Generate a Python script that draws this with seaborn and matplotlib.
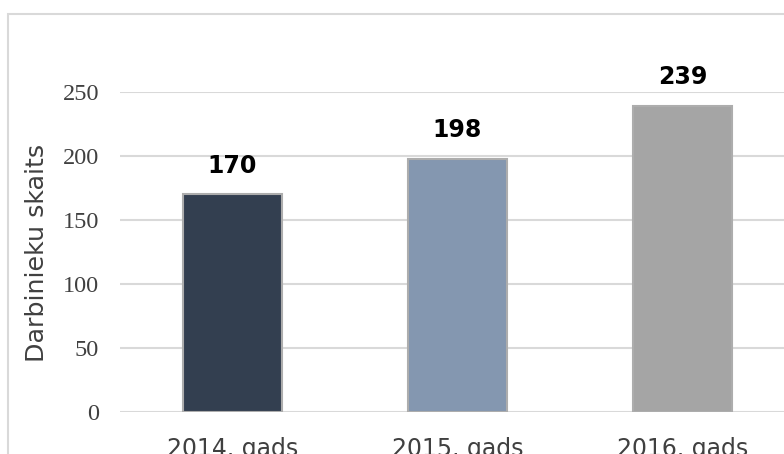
import matplotlib
matplotlib.use("Agg")
import matplotlib.pyplot as plt
import matplotlib.patches as mpatches
import seaborn as sns
import pandas as pd

years = ["2014. gads", "2015. gads", "2016. gads"]
employees = [170, 198, 239]
bar_colors = ["#333F50", "#8497B0", "#A5A5A5"]

df = pd.DataFrame({"year": years, "count": employees})

sns.set_theme(style="white")
plt.rcParams["font.family"] = ["DejaVu Sans"]

fig = plt.figure(figsize=(7.84, 4.54), dpi=100)
ax = fig.add_axes([0.153, 0.0925, 0.861, 0.705])

# outer chart frame
fig.patches.append(mpatches.Rectangle((8 / 784, -0.1), 1.2, 1 - 14 / 454 + 0.1,
                                      transform=fig.transFigure, fill=False,
                                      edgecolor="#D9D9D9", linewidth=1.5))

sns.barplot(data=df, x="year", y="count", hue="year", palette=bar_colors,
            saturation=1, width=0.44, edgecolor="#ADADAD", linewidth=1.5,
            legend=False, ax=ax)

for i, v in enumerate(employees):
    ax.text(i, v + 13, str(v), ha="center", va="bottom", fontsize=17,
            fontweight="bold", color="black", clip_on=False)

ax.set_ylim(0, 250)
ax.set_xlim(-0.5, 2.5)
ax.set_yticks(range(0, 251, 50))
ax.yaxis.grid(True, color="#D9D9D9", linewidth=1.5)
ax.set_axisbelow(True)
for s in ax.spines.values():
    s.set_visible(False)

ax.set_xlabel("")
ax.set_ylabel("")
fig.text(37 / 784, 1 - 253 / 454, "Darbinieku skaits", rotation=90,
         ha="center", va="center", fontsize=18.3, color="#404040")
ax.tick_params(axis="y", length=0, pad=15, labelsize=17.5, labelcolor="#404040")
ax.tick_params(axis="x", length=0, pad=18, labelsize=17, labelcolor="#404040")
for lbl in ax.get_yticklabels():
    lbl.set_family("Liberation Serif")

fig.savefig("out.png", dpi=100)
